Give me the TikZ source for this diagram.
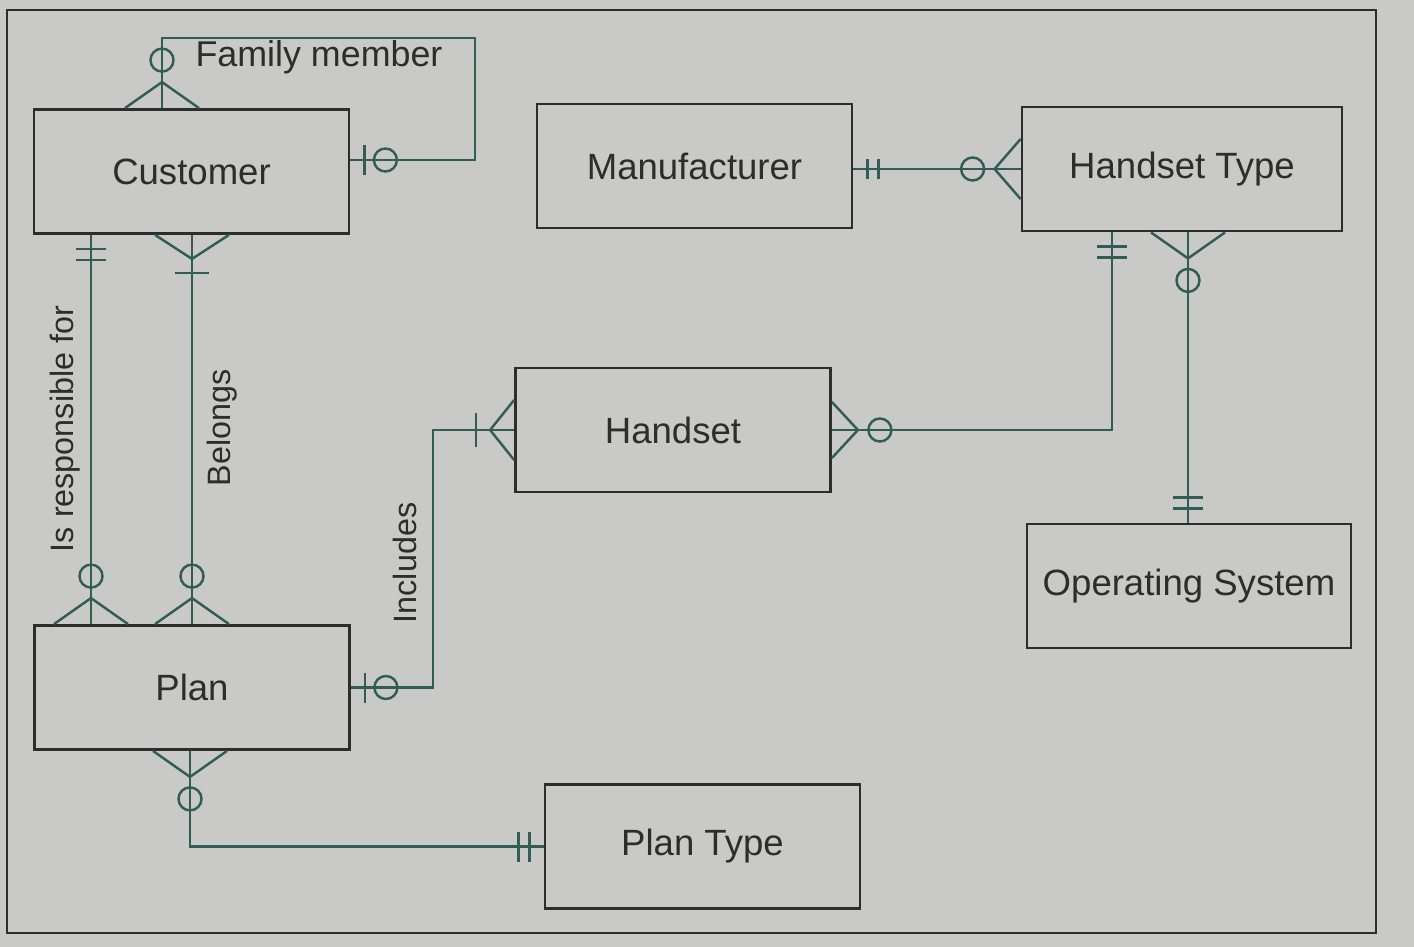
\documentclass[tikz,border=0pt]{standalone}
\usepackage{fontspec}
\setmainfont{Liberation Sans}
\usepackage{tikz}
\usetikzlibrary{positioning}
\definecolor{paper}{RGB}{201,202,200}
\definecolor{ink}{RGB}{45,45,45}
\definecolor{relcol}{RGB}{50,92,86}
\tikzset{spread/.store in = \crowspread, spread=0.37,
         barlen/.store in = \barlen, barlen=0.15,
         entity/.style = {draw=ink,line width=0.8pt,minimum width=3.15cm,minimum height=1.24cm,
                          text=ink,font=\fontsize{10.4}{12}\selectfont},
         rel/.style    = {draw=relcol,line width=0.7pt},
         rlabel/.style = {text=ink,font=\fontsize{9.2}{11}\selectfont,rotate=90},
         zmany/.pic    = {\draw[rel] (0,\crowspread) -- (0.26,0) -- (0,-\crowspread);
                          \draw[rel] (0.48,0) circle (0.115);},
         omany/.pic    = {\draw[rel] (0,\crowspread) -- (0.24,0) -- (0,-\crowspread);
                          \draw[rel] (0.38,0.17) -- (0.38,-0.17);},
         zone/.pic     = {\draw[rel] (0.14,0.15) -- (0.14,-0.15);
                          \draw[rel] (0.35,0) circle (0.115);},
         oone/.pic     = {\draw[rel] (0.14,\barlen) -- (0.14,-\barlen) (0.25,\barlen) -- (0.25,-\barlen);}}
\begin{document}
\begin{tikzpicture}
    \fill[paper] (0,0) rectangle (14.14,-9.47);
    \useasboundingbox (0,0) rectangle (14.14,-9.47);
    \draw[ink,line width=0.8pt] (0.07,-0.10) rectangle (13.76,-9.33);

    \node [entity]                        (cust)  at ( 1.915,-1.715) {Customer};
    \node [entity]                        (manu)  at ( 6.945,-1.66)  {Manufacturer};
    \node [entity, minimum width=3.2cm]   (htype) at (11.82, -1.69)  {Handset Type};
    \node [entity]                        (hset)  at ( 6.73, -4.30)  {Handset};
    \node [entity, minimum width=3.24cm]  (os)    at (11.89, -5.86)  {Operating System};
    \node [entity]                        (plan)  at ( 1.92, -6.875) {Plan};
    \node [entity]                        (ptype) at ( 7.025,-8.465) {Plan Type};

    \coordinate (fmx)  at ( 1.62,0);
    \coordinate (fmc)  at ( 4.75,-0.38);
    \coordinate (rspx) at ( 0.91,0);
    \coordinate (blgx) at ( 1.92,0);
    \coordinate (incx) at ( 4.33,0);
    \coordinate (hsx)  at (11.12,0);
    \coordinate (osx)  at (11.88,0);
    \coordinate (plx)  at ( 1.90,0);

    \draw[rel] (cust.north -| fmx) |- (fmc) |- ([yshift=0.115cm]cust.east);
    \draw[rel] (htype.west -| manu.east) -- (htype.west);
    \draw[rel] (cust.south -| rspx) -- (plan.north -| rspx);
    \draw[rel] (cust.south -| blgx) -- (plan.north -| blgx);
    \draw[rel] (plan.east) -| (hset.west -| incx) -- (hset.west);
    \draw[rel] (hset.east) -| (htype.south -| hsx);
    \draw[rel] (htype.south -| osx) -- (os.north -| osx);
    \draw[rel] (plan.south -| plx) |- (ptype.west);

    \pic[rotate=90]  at (cust.north -| fmx)          {zmany};
    \pic             at ([yshift=0.115cm]cust.east)  {zone};
    \pic[barlen=0.1] at (htype.west -| manu.east)    {oone};
    \pic[rotate=180, spread=0.30] at (htype.west)    {zmany};
    \pic[rotate=-90] at (cust.south -| rspx)         {oone};
    \pic[rotate=90]  at (plan.north -| rspx)         {zmany};
    \pic[rotate=-90] at (cust.south -| blgx)         {omany};
    \pic[rotate=90]  at (plan.north -| blgx)         {zmany};
    \pic             at (plan.east)                  {zone};
    \pic[rotate=180, spread=0.30] at (hset.west)     {omany};
    \pic[spread=0.28] at (hset.east)                 {zmany};
    \pic[rotate=-90] at (htype.south -| hsx)         {oone};
    \pic[rotate=-90] at (htype.south -| osx)         {zmany};
    \pic[rotate=90]  at (os.north -| osx)            {oone};
    \pic[rotate=-90] at (plan.south -| plx)          {zmany};
    \pic[rotate=180] at (ptype.west)                 {oone};

    \node [text=ink, font=\fontsize{10.2}{12}\selectfont] (fmlab) at (3.19,-0.57) {Family member};
    \node [rlabel] (rsplab) at (0.65,-4.29) {Is responsible for};
    \node [rlabel] (blglab) at (2.22,-4.28) {Belongs};
    \node [rlabel] (inclab) at (4.05,-5.63) {Includes};
\end{tikzpicture}
\end{document}
